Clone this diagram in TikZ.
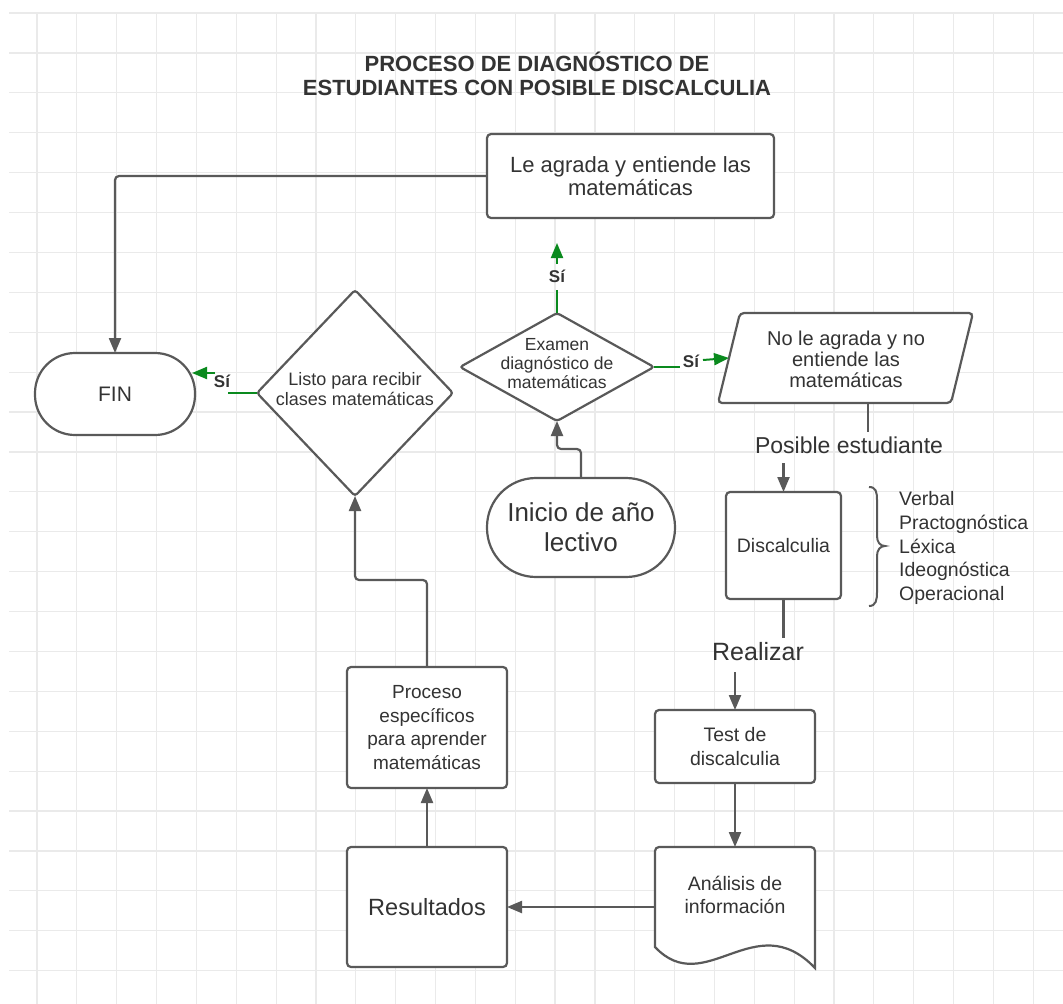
\documentclass[tikz,border=0pt]{standalone}
\usepackage{fontspec}
\setmainfont{Liberation Sans}
\usetikzlibrary{arrows.meta,shapes.geometric}
\definecolor{gridc}{HTML}{EAEAEA}
\definecolor{linec}{HTML}{595959}
\definecolor{txtc}{HTML}{333333}
\definecolor{greenc}{HTML}{0A8A1E}
\begin{document}
\begin{tikzpicture}[x=1pt,y=-1pt,
  box/.style={draw=linec, line width=2.2pt, rounded corners=4pt, fill=white, text=txtc, align=center, inner sep=0pt, outer sep=0pt},
  ghost/.style={inner sep=0pt, outer sep=0pt},
  txt/.style={text=txtc, align=center, inner sep=0pt},
  conn/.style={draw=linec, line width=2.2pt, rounded corners=4pt},
  arr/.style={conn, -{Triangle[length=15pt,width=12pt]}},
  gline/.style={draw=greenc, line width=2pt},
  garr/.style={gline, -{Triangle[length=15pt,width=12pt]}},
  silbl/.style={text=txtc, inner sep=0pt, font=\fontsize{17}{19}\selectfont\bfseries}]
\useasboundingbox (0,0) rectangle (1063,1004);
\fill[white] (0,0) rectangle (1063,1004);
% grid
\foreach \k in {0,...,25} \draw[gridc, line width=1.2pt] ({37+39.85*\k},13) -- ({37+39.85*\k},1004);
\foreach \k in {0,...,24} \draw[gridc, line width=1.2pt] (9,{13+39.9*\k}) -- (1063,{13+39.9*\k});

% title
\node[txt, font=\fontsize{22}{23.5}\selectfont\bfseries] (title) at (537,74) {PROCESO DE DIAGNÓSTICO DE\\ESTUDIANTES CON POSIBLE DISCALCULIA};

% nodes
\node[box, minimum width=287pt, minimum height=84pt, font=\fontsize{22}{23.5}\selectfont] (top) at (630.5,176) {Le agrada y entiende las\\matemáticas};
\node[box, minimum width=160pt, minimum height=82pt, rounded corners=40pt, font=\fontsize{21}{24}\selectfont] (fin) at (115,394) {FIN};
\node[box, diamond, minimum width=196pt, minimum height=206pt, rounded corners=3pt] (listo) at (355,393) {};
\node[txt, font=\fontsize{18}{20}\selectfont] (listot) at (355,389) {Listo para recibir\\clases matemáticas};
\node[box, diamond, minimum width=194pt, minimum height=108pt, rounded corners=3pt] (exam) at (557,367) {};
\node[txt, font=\fontsize{17.5}{19}\selectfont] (examt) at (557,364) {Examen\\diagnóstico de\\matemáticas};
\node[ghost, minimum width=233pt, minimum height=90pt] (para) at (845.5,358) {};
\draw[draw=linec, line width=2.2pt, rounded corners=4pt, fill=white] ([xshift=-11pt]para.south west) -- ([xshift=11pt]para.north west) -- ([xshift=11pt]para.north east) -- ([xshift=-11pt]para.south east) -- cycle;
\node[txt, font=\fontsize{20}{21}\selectfont] (parat) at (846,359) {No le agrada y no\\entiende las\\matemáticas};
\node[box, minimum width=115pt, minimum height=107pt, font=\fontsize{19.5}{23}\selectfont] (disc) at (783.5,545.5) {Discalculia};
\node[box, minimum width=160pt, minimum height=73pt, font=\fontsize{19.5}{23.5}\selectfont] (test) at (735,746.5) {Test de\\discalculia};
\node[ghost, minimum width=160pt, minimum height=120pt] (anal) at (735,907) {};
\draw[draw=linec, line width=2.2pt, fill=white, rounded corners=4pt] (655,947) -- (655,847) -- (815,847) [rounded corners=0pt] -- (815,968) .. controls (755,905) and (705,1000) .. (655,947) -- cycle;
\node[txt, font=\fontsize{19.5}{23.5}\selectfont] (analt) at (735,895) {Análisis de\\información};
\node[box, minimum width=160pt, minimum height=120pt, font=\fontsize{23.5}{26}\selectfont] (res) at (427,907) {Resultados};
\node[box, minimum width=160pt, minimum height=121pt, font=\fontsize{19}{23.5}\selectfont] (proc) at (427,727.5) {Proceso\\específicos\\para aprender\\matemáticas};
\node[box, minimum width=188pt, minimum height=99pt, rounded corners=49pt, font=\fontsize{26}{30}\selectfont] (ini) at (581,527.5) {Inicio de año\\lectivo};

% brace and list
\draw[draw=linec, line width=2pt] (869,487) .. controls (876,487) and (877,492) .. (877,500) -- (877,536) .. controls (877,542) and (880,546) .. (885,546) .. controls (880,546) and (877,550) .. (877,556) -- (877,592) .. controls (877,600) and (876,606) .. (869,606);
\node[txt, anchor=west, align=left, font=\fontsize{19.5}{23.8}\selectfont] (tipos) at (899,548) {Verbal\\Practognóstica\\Léxica\\Ideognóstica\\Operacional};

% connectors
\draw[arr] (top.west) -| (fin.north);

\coordinate (g1a) at (228,393);
\coordinate (g1b) at (215,373);
\coordinate (g1c) at (192,373);
\draw[gline] (listo.west) -- (g1a);
\node[silbl] (si1) at (222,381) {Sí};
\draw[garr] (g1b) -- (g1c);

\coordinate (g2a) at (557,290);
\coordinate (g2b) at (557,264);
\coordinate (g2c) at (557,243);
\draw[gline] (exam.north) -- (g2a);
\node[silbl] (si2) at (557,276) {Sí};
\draw[garr] (g2b) -- (g2c);

\coordinate (g3a) at (680,367);
\coordinate (g3b) at (703,360);
\draw[gline] (exam.east) -- (g3a);
\node[silbl] (si3) at (691,361) {Sí};
\draw[garr] (g3b) -- (para.west);

\coordinate (p1) at (868,432);
\coordinate (p2) at (783.5,463);
\draw[conn] (p1 |- para.south) -- (p1);
\node[txt, font=\fontsize{23}{26}\selectfont] (posible) at (849,445) {Posible estudiante};
\draw[arr] (p2) -- (disc.north);

\coordinate (r1) at (783.5,638);
\coordinate (r2) at (735,672);
\draw[conn] (disc.south) -- (r1);
\node[txt, font=\fontsize{25}{28}\selectfont] (realizar) at (758,652) {Realizar};
\draw[arr] (r2) -- (test.north);

\draw[arr] (test.south) -- (anal.north);
\draw[arr] (anal.west) -- (res.east);
\draw[arr] (res.north) -- (proc.south);
\coordinate (k1) at (427,580);
\draw[arr] (proc.north) -- (k1) -| (listo.south);
\coordinate (j1) at (557,449);
\draw[arr] (ini.north) |- (j1) -- (exam.south);
\end{tikzpicture}
\end{document}
